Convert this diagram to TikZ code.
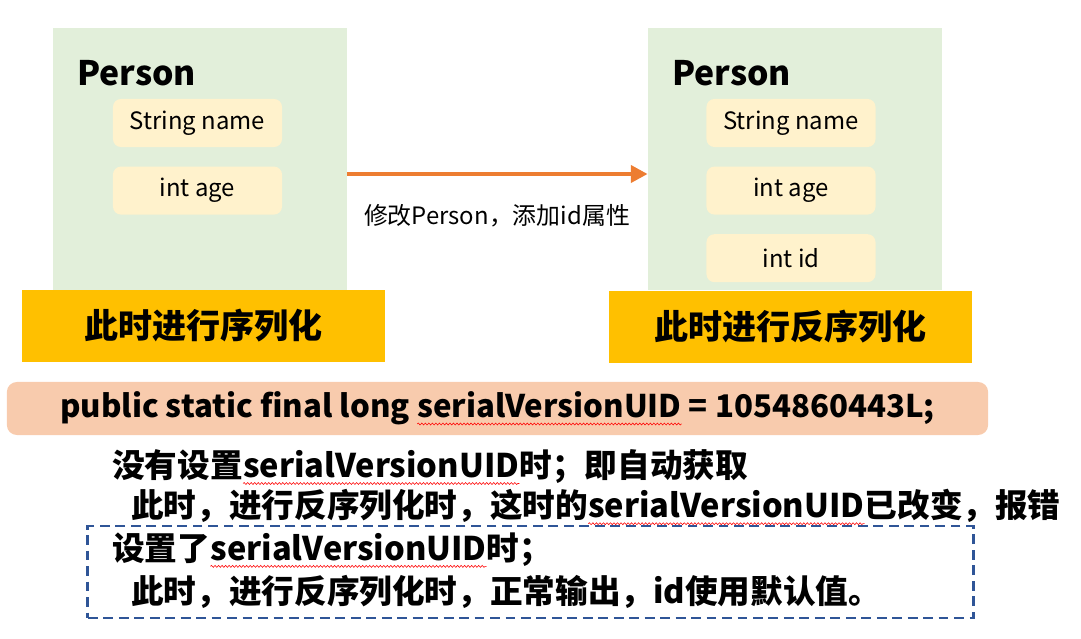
\documentclass[tikz,border=0pt]{standalone}
\usepackage{fontspec}
\setmainfont{Noto Sans CJK SC}
\usepackage{tikz}
\usetikzlibrary{positioning, arrows.meta, decorations.pathmorphing}

\definecolor{classgreen}{HTML}{E2EFDA}
\definecolor{fieldyellow}{HTML}{FFF2CC}
\definecolor{stepgold}{HTML}{FFC000}
\definecolor{codesalmon}{HTML}{F8CBAD}
\definecolor{arroworange}{HTML}{ED7D31}
\definecolor{noteblue}{HTML}{2F5597}

% red spell-check wave under a word
\newcommand{\spellwave}[1]{\tikz[baseline=(w.base), x=1pt, y=1pt, sharp corners]{\node[inner sep=0pt, outer sep=0pt, anchor=base, draw=none, fill=none, minimum width=0pt, minimum height=0pt, sharp corners](w){#1}; \draw[red, line width=0.4pt, solid, sharp corners, decorate, decoration={snake, amplitude=0.7pt, segment length=2.5pt}] ([yshift=-4.5pt]w.base west) -- ([yshift=-4.5pt]w.base east);}}

\begin{document}
\begin{tikzpicture}[x=0.025cm, y=-0.025cm,
    classbox/.style={rectangle, fill=classgreen, minimum width=7.35cm, minimum height=6.55cm, inner sep=0pt},
    fieldbox/.style={rectangle, rounded corners=0.2cm, fill=fieldyellow, minimum width=4.225cm, minimum height=1.2cm, inner sep=0pt, font=\fontsize{17}{20}\selectfont},
    titletext/.style={inner sep=0pt, font=\fontsize{24}{29}\selectfont\bfseries},
    stepbox/.style={rectangle, fill=stepgold, minimum width=9.075cm, minimum height=1.8cm, inner sep=0pt, font=\fontsize{24.2}{29}\selectfont\bfseries},
    notetext/.style={inner sep=0pt, anchor=west, font=\fontsize{23.2}{28}\selectfont\bfseries}
]
\useasboundingbox (0,0) rectangle (1081,639);

% left: before change
\node[classbox](class_l) at (200,159){};
\node[titletext, anchor=base west] at (77,85){Person};
\node[fieldbox](field_l_1) at (197.5,123){String name};
\node[fieldbox](field_l_2)[below = 0.475cm of field_l_1]{int age};
\node[stepbox](step_l) at (203.5,326){此时进行序列化};

% right: after change
\node[classbox](class_r) at (795,159){};
\node[titletext, anchor=base west] at (672,85){Person};
\node[fieldbox](field_r_1) at (791,123){String name};
\node[fieldbox](field_r_2)[below = 0.475cm of field_r_1]{int age};
\node[fieldbox](field_r_3)[below = 0.475cm of field_r_2]{int id};
\node[stepbox](step_r) at (790.5,327){此时进行反序列化};

\draw[arroworange, line width=3.5pt, -{Triangle[length=12pt, width=12pt]}] ([yshift=-0.375cm]class_l.east) -- ([yshift=-0.375cm]class_r.west);
\node[inner sep=0pt, font=\fontsize{17}{20}\selectfont](change) at (497,216){修改Person，添加id属性};

% serialVersionUID
\node[rectangle, rounded corners=0.25cm, fill=codesalmon, minimum width=24.525cm, minimum height=1.325cm, inner sep=0pt, font=\fontsize{22.2}{27}\selectfont\bfseries](uid) at (497.5,408.5){public static final long \spellwave{serialVersionUID} = 1054860443L;};

\node[notetext](note_1) at (112,467){没有设置\spellwave{serialVersionUID}时；即自动获取};
\node[notetext](note_2) at (131,507){此时，进行反序列化时，这时的\spellwave{serialVersionUID}已改变，报错};
\node[draw=noteblue, line width=2.1pt, dash pattern=on 7pt off 4pt, minimum width=22.125cm, minimum height=2.3cm](note_box) at (530.5,572){};
\node[notetext](note_3) at (112,550){设置了\spellwave{serialVersionUID}时；};
\node[notetext](note_4) at (131,592){此时，进行反序列化时，正常输出，id使用默认值。};
\end{tikzpicture}
\end{document}
